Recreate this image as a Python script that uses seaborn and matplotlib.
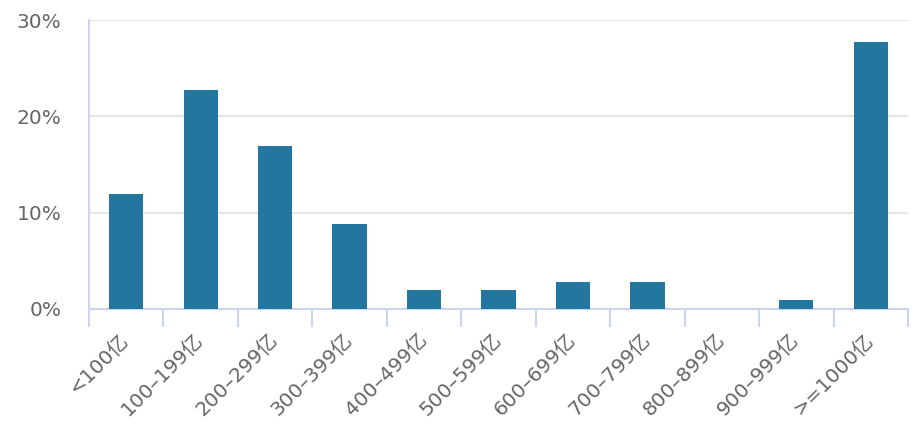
import matplotlib
matplotlib.use("Agg")
import matplotlib.pyplot as plt
import seaborn as sns
import pandas as pd
import numpy as np
from matplotlib.ticker import FuncFormatter, FixedLocator

categories = ["<100亿", "100–199亿", "200–299亿", "300–399亿", "400–499亿", "500–599亿",
              "600–699亿", "700–799亿", "800–899亿", "900–999亿", ">=1000亿"]
values = [11.9, 22.7, 16.9, 8.8, 2.0, 2.0, 2.8, 2.8, 0.0, 0.9, 27.7]
yticks = [0, 10, 20, 30]

sns.set_style("white")
plt.rcParams['font.family'] = ['DejaVu Sans', 'Noto Sans CJK SC']

df = pd.DataFrame({"cat": categories, "val": values})

fig = plt.figure(figsize=(9.24, 4.4), dpi=100)
ax = fig.add_axes([89/924, 1 - 309/440, (908-89)/924, (309-20)/440])

sns.barplot(data=df, x="cat", y="val", color="#23769f", saturation=1, width=0.46,
            linewidth=0, edgecolor="none", ax=ax, zorder=3)

ax.set_xlim(-0.5, len(categories) - 0.5)
ax.set_ylim(0, 30)
ax.set_yticks(yticks)
ax.yaxis.set_major_formatter(FuncFormatter(lambda v, p: f"{int(v)}%"))
ax.grid(axis="y", color="#e6e6e6", linewidth=1.5, zorder=0)
ax.set_axisbelow(True)
ax.set_xlabel("")
ax.set_ylabel("")

for s in ["top", "right"]:
    ax.spines[s].set_visible(False)
for s in ["left", "bottom"]:
    ax.spines[s].set_color("#ccd6eb")
    ax.spines[s].set_linewidth(1.5)

ax.tick_params(axis="y", left=False, length=0, pad=20, labelsize=14.5, labelcolor="#666666")
ax.tick_params(axis="x", which="major", bottom=False, length=0, pad=20, labelsize=14.5, labelcolor="#666666")
ax.xaxis.set_minor_locator(FixedLocator(np.arange(-0.5, len(categories), 1.0)))
ax.tick_params(axis="x", which="minor", bottom=True, length=13, width=1.5, color="#ccd6eb")

for lab in ax.get_xticklabels():
    lab.set_rotation(45)
    lab.set_ha("right")
    lab.set_va("center")
    lab.set_rotation_mode("anchor")

fig.savefig("out.png", dpi=100)
